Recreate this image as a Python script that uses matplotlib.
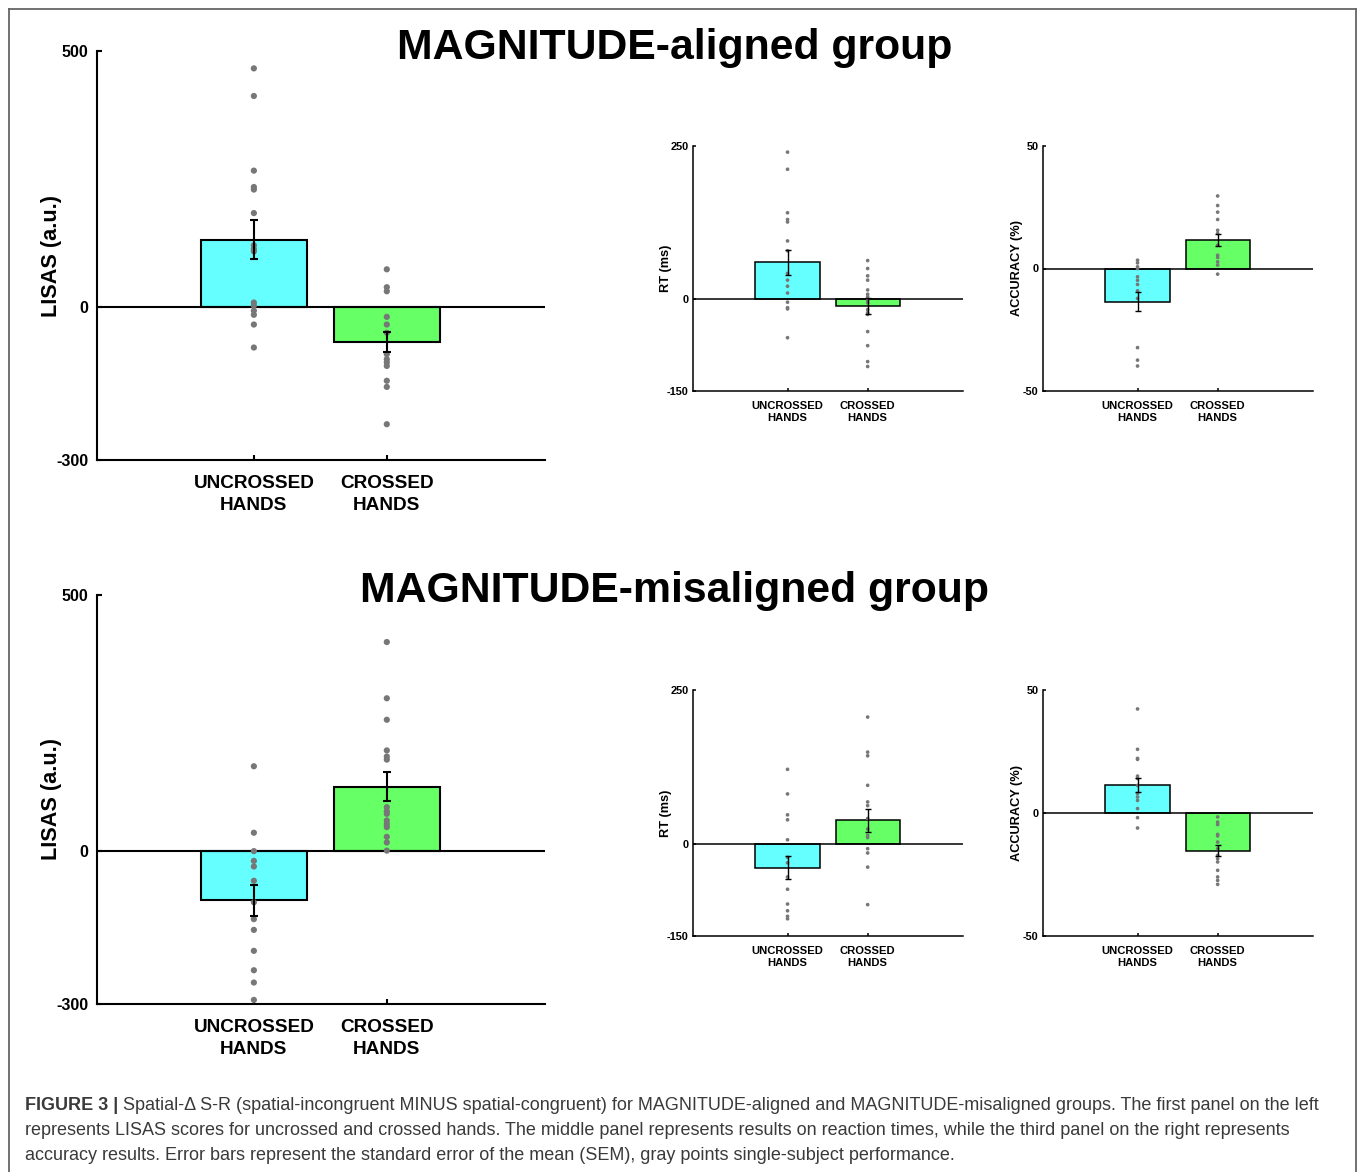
import matplotlib
matplotlib.use("Agg")
import matplotlib.pyplot as plt
from matplotlib.lines import Line2D
import numpy as np

plt.rcParams['font.family'] = ['Liberation Sans', 'DejaVu Sans']

W, H = 1360, 1172

# ---------------- data ----------------
conditions = ["UNCROSSED\nHANDS", "CROSSED\nHANDS"]
bar_colors = ["#66FFFF", "#66FF66"]

# MAGNITUDE-aligned group
top_lisas_unc = [466, 412, 266, 234, 229, 183, 120, 113, 108, 8, 2, -8, -16, -35, -80]
top_lisas_cr = [73, 38, 30, -20, -35, -51, -93, -103, -109, -116, -145, -157, -230]
top_lisas_mean = [131, -69]
top_lisas_sem = [38, 20]

top_rt_unc = [240, 212, 141, 130, 126, 95, 79, 42, 31, 21, 10, -5, -14, -16, -63]
top_rt_cr = [63, 50, 38, 31, 15, 8, 4, -2, -6, -17, -22, -25, -53, -76, -102, -110]
top_rt_mean = [60, -11]
top_rt_sem = [21, 13]

top_acc_unc = [3.4, 2.3, 0.7, 0, -3.4, -4.8, -6.5, -9.1, -12.2, -32.3, -37.4, -39.8]
top_acc_cr = [29.6, 25.7, 23, 20, 15.6, 14.3, 9.5, 5.4, 4.5, 2.7, 1.4, -2.3]
top_acc_mean = [-13.5, 11.7]
top_acc_sem = [4.0, 2.5]

# MAGNITUDE-misaligned group
bot_lisas_unc = [165, 35, -1, -20, -31, -59, -101, -134, -155, -196, -234, -258, -292]
bot_lisas_cr = [408, 298, 256, 196, 184, 178, 85, 77, 72, 59, 52, 46, 27, 16, 0]
bot_lisas_mean = [-97, 125]
bot_lisas_sem = [30, 28]

bot_rt_unc = [121, 81, 47, 39, 6.5, -22, -31, -54, -74, -98, -109, -118, -122]
bot_rt_cr = [206, 149, 143, 95, 68, 62, 41, 24, 13.6, 10, -8, -15, -38, -99]
bot_rt_mean = [-39, 38]
bot_rt_sem = [19, 19]

bot_acc_unc = [42.3, 25.9, 22.2, 21.8, 15, 14, 11.2, 7.9, 6.5, 5.1, 1.8, -1.9, -6.1]
bot_acc_cr = [-1.6, -3.7, -4.7, -8.7, -9.3, -11.8, -14.5, -17.2, -18.6, -19.9, -23.3, -26, -27.4, -29]
bot_acc_mean = [11.4, -15.3]
bot_acc_sem = [3.0, 2.3]

lisas_ticks = [-300, 0, 500]
rt_ticks = [-150, 0, 250]
acc_ticks = [-50, 0, 50]

titles = ["MAGNITUDE-aligned group", "MAGNITUDE-misaligned group"]

caption_bold = "FIGURE 3 |"
caption_l1 = (" Spatial-\u0394 S-R (spatial-incongruent MINUS spatial-congruent) for MAGNITUDE-aligned "
              "and MAGNITUDE-misaligned groups. The first panel on the left")
caption_l2 = ("represents LISAS scores for uncrossed and crossed hands. The middle panel represents "
              "results on reaction times, while the third panel on the right represents")
caption_l3 = ("accuracy results. Error bars represent the standard error of the mean (SEM), "
              "gray points single-subject performance.")

# ---------------- figure ----------------
fig = plt.figure(figsize=(W / 100, H / 100), dpi=100)
fig.patch.set_facecolor("white")


def ax_px(l, t, r, b):
    return fig.add_axes([l / W, 1 - b / H, (r - l) / W, (b - t) / H])


def panel(ax, unc, cr, mean, sem, ticks, ylabel, big, label_x):
    pos = [1, 2]
    lw = 1.5 if big else 1.1
    ax.bar(pos, mean, width=0.8, color=bar_colors, edgecolor="black", linewidth=lw, zorder=2)
    ax.axhline(0, color="black", lw=lw, zorder=3)
    ms = 20 if big else 7
    for p, vals in zip(pos, [unc, cr]):
        ax.scatter(np.full(len(vals), p), vals, s=ms, color="#777777", edgecolors="none", zorder=4)
    ax.errorbar(pos, mean, yerr=sem, fmt="none", ecolor="black",
                elinewidth=1.5 if big else 1.0, capsize=3 if big else 2,
                capthick=1.5 if big else 1.0, zorder=5)
    ax.set_xlim(-0.18, 3.19)
    ax.set_ylim(ticks[0], ticks[-1])
    ax.set_yticks(ticks)
    ax.set_yticklabels([str(t) for t in ticks], fontweight="bold", fontsize=11.5 if big else 7.9)
    ax.set_xticks(pos)
    ax.set_xticklabels(conditions, fontweight="bold", fontsize=13.7 if big else 8.1,
                       linespacing=1.4 if big else 1.3)
    ax.tick_params(axis="both", direction="in", length=3.5 if big else 2.5, width=lw,
                   pad=(6 if big else 3))
    ax.tick_params(axis="x", pad=(11 if big else 7))
    for s in ["top", "right"]:
        ax.spines[s].set_visible(False)
    for s in ["left", "bottom"]:
        ax.spines[s].set_linewidth(lw)
    ax.set_ylabel(ylabel, fontweight="bold", fontsize=15.6 if big else 9.2)
    ax.yaxis.set_label_coords(label_x, 0.5)
    ax.set_facecolor("none")


# top row
ax1 = ax_px(97, 51, 545, 460)
panel(ax1, top_lisas_unc, top_lisas_cr, top_lisas_mean, top_lisas_sem, lisas_ticks,
      "LISAS (a.u.)", True, -0.078)
ax2 = ax_px(693, 146, 963, 391)
panel(ax2, top_rt_unc, top_rt_cr, top_rt_mean, top_rt_sem, rt_ticks, "RT (ms)", False, -0.078)
ax3 = ax_px(1043, 146, 1313, 391)
panel(ax3, top_acc_unc, top_acc_cr, top_acc_mean, top_acc_sem, acc_ticks, "ACCURACY (%)", False, -0.073)

# bottom row
ax4 = ax_px(97, 595, 545, 1004)
panel(ax4, bot_lisas_unc, bot_lisas_cr, bot_lisas_mean, bot_lisas_sem, lisas_ticks,
      "LISAS (a.u.)", True, -0.078)
ax5 = ax_px(693, 690, 963, 936)
panel(ax5, bot_rt_unc, bot_rt_cr, bot_rt_mean, bot_rt_sem, rt_ticks, "RT (ms)", False, -0.078)
ax6 = ax_px(1043, 690, 1313, 936)
panel(ax6, bot_acc_unc, bot_acc_cr, bot_acc_mean, bot_acc_sem, acc_ticks, "ACCURACY (%)", False, -0.073)

# titles
fig.text(675 / W, 1 - 59 / H, titles[0], ha="center", va="baseline", fontsize=30.8, fontweight="bold")
fig.text(675 / W, 1 - 602 / H, titles[1], ha="center", va="baseline", fontsize=30.8, fontweight="bold")

# frame
fc = "#666666"
fig.add_artist(Line2D([8.5 / W, 8.5 / W], [0, 1 - 8.5 / H], color=fc, lw=1.3))
fig.add_artist(Line2D([8.5 / W, 1355.5 / W], [1 - 8.5 / H, 1 - 8.5 / H], color=fc, lw=1.3))
fig.add_artist(Line2D([1355.5 / W, 1355.5 / W], [0, 1 - 8.5 / H], color=fc, lw=1.3))

# caption
cap_col = "#3a3a3a"
cfs = 12.95
t1 = fig.text(25 / W, 1 - 1110 / H, caption_bold, ha="left", va="baseline", fontsize=cfs,
              fontweight="bold", color=cap_col)
fig.canvas.draw()
bb = t1.get_window_extent()
fig.text(bb.x1 / W, 1 - 1110 / H, caption_l1, ha="left", va="baseline", fontsize=cfs, color=cap_col)
fig.text(25 / W, 1 - 1135 / H, caption_l2, ha="left", va="baseline", fontsize=cfs, color=cap_col)
fig.text(25 / W, 1 - 1160 / H, caption_l3, ha="left", va="baseline", fontsize=cfs, color=cap_col)

fig.savefig("out.png", dpi=100)
